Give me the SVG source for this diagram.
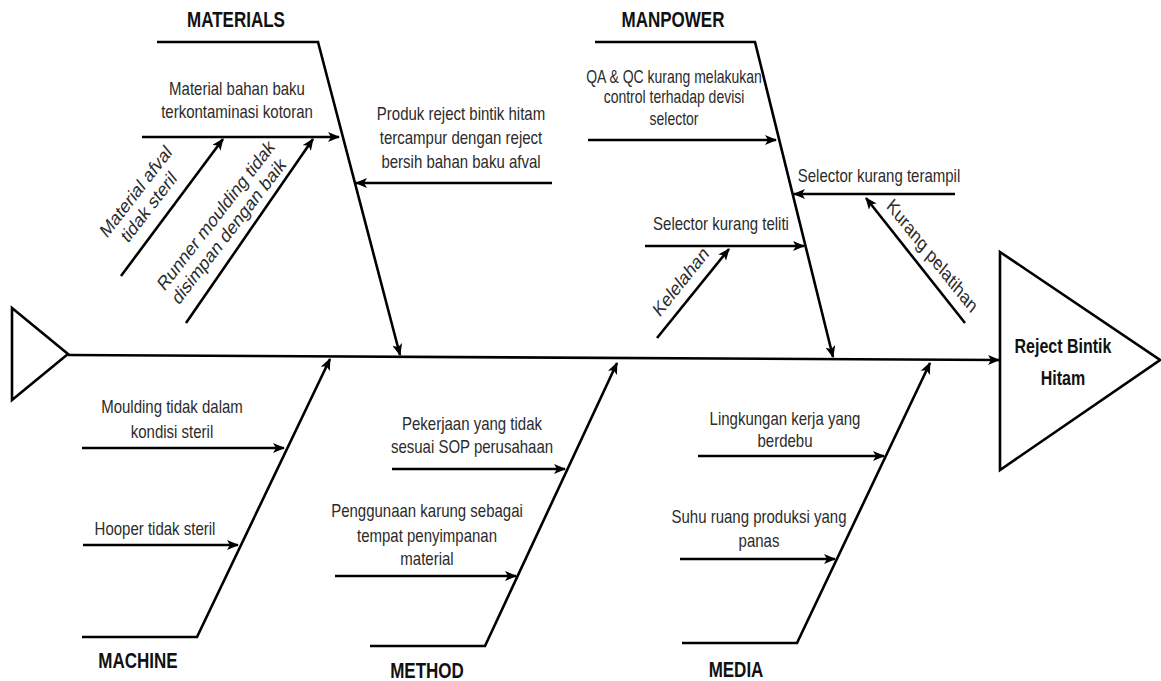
<svg xmlns="http://www.w3.org/2000/svg" width="1161" height="681" viewBox="0 0 1161 681">
<defs>
<style>
.ln{fill:none;stroke:#000;stroke-width:2.6;stroke-linejoin:miter}
.ar{fill:none;stroke:#000;stroke-width:2.6;marker-end:url(#ah)}
.t{font-family:"Liberation Sans",Arial,sans-serif;font-size:15px;fill:#2b2b2b;text-anchor:middle}
.s{font-size:14px}
.r{font-size:16px}
.h{font-family:"Liberation Sans",Arial,sans-serif;font-size:17px;font-weight:bold;fill:#111;text-anchor:middle}
.hr{font-size:16px}
</style>
<marker id="ah" viewBox="0 0 12 10" refX="11" refY="5" markerWidth="12" markerHeight="10" markerUnits="userSpaceOnUse" orient="auto">
<path d="M0,0 L12,5 L0,10 L3,5 z" fill="#000"/>
</marker>
</defs>
<rect width="1161" height="681" fill="#fff"/>

<g id="connectors">
<polygon class="ln" points="12,308 68,354 12,400"/>
<line class="ar" x1="68" y1="355" x2="999" y2="360"/>
<polyline class="ar" points="157,42 318,42 400,355"/>
<polyline class="ar" points="595,42 755,42 833,357"/>
<polyline class="ar" points="82,637 197,637 330,359"/>
<polyline class="ar" points="370,646 485,646 617,363"/>
<polyline class="ar" points="682,643 797,643 930,363"/>
<line class="ar" x1="142" y1="137" x2="339" y2="137"/>
<line class="ar" x1="121" y1="276" x2="223" y2="139"/>
<line class="ar" x1="186" y1="323" x2="313" y2="139"/>
<line class="ar" x1="552" y1="183" x2="356" y2="183"/>
<line class="ar" x1="588" y1="140" x2="776" y2="140"/>
<line class="ar" x1="955" y1="194" x2="794" y2="194"/>
<line class="ar" x1="965" y1="323" x2="866" y2="198"/>
<line class="ar" x1="645" y1="246" x2="804" y2="246"/>
<line class="ar" x1="657" y1="338" x2="729" y2="249"/>
<line class="ar" x1="82" y1="448" x2="284" y2="448"/>
<line class="ar" x1="83" y1="545" x2="238" y2="545"/>
<line class="ar" x1="392" y1="469" x2="565" y2="469"/>
<line class="ar" x1="335" y1="576" x2="516" y2="576"/>
<line class="ar" x1="698" y1="456" x2="884" y2="456"/>
<line class="ar" x1="680" y1="559" x2="835" y2="559"/>
</g>

<g id="effect">
<polygon class="ln" points="1000,252 1160,360 1000,470"/>
<text class="h hr" transform="translate(1063,353) scale(1,1.25)"><tspan x="0" y="0">Reject Bintik</tspan><tspan x="0" y="25.6">Hitam</tspan></text>
</g>

<g id="materials">
<text class="h" transform="translate(236,27) scale(1,1.25)">MATERIALS</text>
<text class="t" transform="translate(237,95) scale(1,1.25)"><tspan x="0" y="0">Material bahan baku</tspan><tspan x="0" y="18.4">terkontaminasi kotoran</tspan></text>
<text class="t r" transform="translate(143,200) scale(1,1.25) rotate(-46)"><tspan x="0" y="-4.5">Material afval</tspan><tspan x="0" y="13.5">tidak steril</tspan></text>
<text class="t r" transform="translate(223,224) scale(1,1.25) rotate(-46)"><tspan x="0" y="-4.5">Runner moulding tidak</tspan><tspan x="0" y="13.5">disimpan dengan baik</tspan></text>
<text class="t" transform="translate(461,120) scale(1,1.25)"><tspan x="0" y="0">Produk reject bintik hitam</tspan><tspan x="0" y="19.2">tercampur dengan reject</tspan><tspan x="0" y="38.4">bersih bahan baku afval</tspan></text>
</g>

<g id="manpower">
<text class="h" transform="translate(673,27) scale(1,1.25)">MANPOWER</text>
<text class="t s" transform="translate(674,83) scale(1,1.25)"><tspan x="0" y="0">QA &amp; QC kurang melakukan</tspan><tspan x="0" y="16.4">control terhadap devisi</tspan><tspan x="0" y="33.6">selector</tspan></text>
<text class="t" transform="translate(879,182) scale(1,1.25)">Selector kurang terampil</text>
<text class="t r" transform="translate(932,256) scale(1,1.25) rotate(45)"><tspan x="0" y="5">Kurang pelatihan</tspan></text>
<text class="t" transform="translate(721,230) scale(1,1.25)">Selector kurang teliti</text>
<text class="t r" transform="translate(681,282) scale(1,1.25) rotate(-45)"><tspan x="0" y="5">Kelelahan</tspan></text>
</g>

<g id="machine">
<text class="h" transform="translate(138,668) scale(1,1.25)">MACHINE</text>
<text class="t" transform="translate(172,413) scale(1,1.25)"><tspan x="0" y="0">Moulding tidak dalam</tspan><tspan x="0" y="20">kondisi steril</tspan></text>
<text class="t" transform="translate(155,535) scale(1,1.25)">Hooper tidak steril</text>
</g>

<g id="method">
<text class="h" transform="translate(427,678) scale(1,1.25)">METHOD</text>
<text class="t" transform="translate(472,430) scale(1,1.25)"><tspan x="0" y="0">Pekerjaan yang tidak</tspan><tspan x="0" y="18.4">sesuai SOP perusahaan</tspan></text>
<text class="t" transform="translate(427,517) scale(1,1.25)"><tspan x="0" y="0">Penggunaan karung sebagai</tspan><tspan x="0" y="20">tempat penyimpanan</tspan><tspan x="0" y="38.4">material</tspan></text>
</g>

<g id="media">
<text class="h" transform="translate(736,677) scale(1,1.25)">MEDIA</text>
<text class="t" transform="translate(785,425) scale(1,1.25)"><tspan x="0" y="0">Lingkungan kerja yang</tspan><tspan x="0" y="17.6">berdebu</tspan></text>
<text class="t" transform="translate(759,523) scale(1,1.25)"><tspan x="0" y="0">Suhu ruang produksi yang</tspan><tspan x="0" y="19.2">panas</tspan></text>
</g>
</svg>
